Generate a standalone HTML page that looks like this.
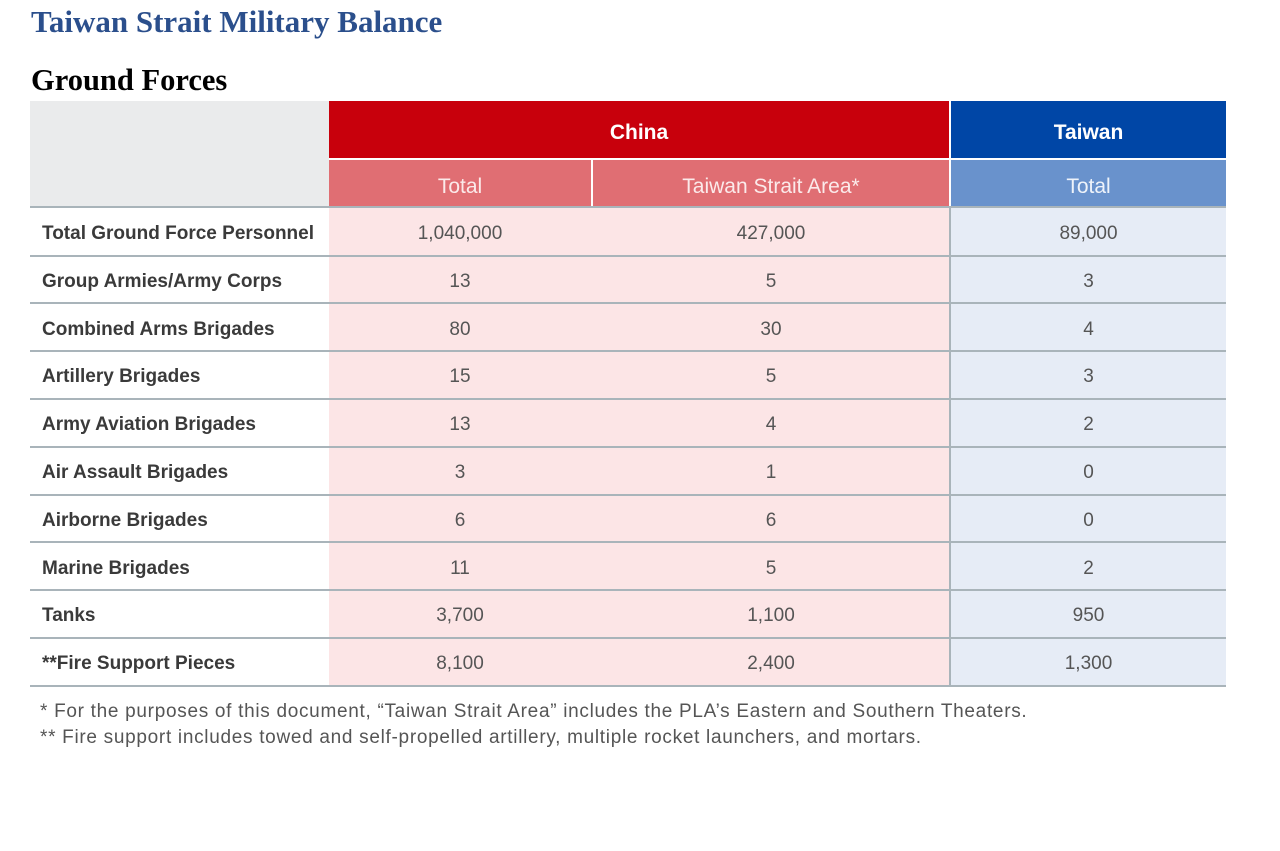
<!DOCTYPE html>
<html><head><meta charset="utf-8"><style>
*{margin:0;padding:0;box-sizing:border-box}
body{width:1280px;height:851px;background:#fff;position:relative;overflow:hidden;font-family:"Liberation Sans",sans-serif}
.a{position:absolute}
.c{display:flex;align-items:center;justify-content:center}
.lbl{font-weight:bold;color:#3a3a3a;font-size:19px;padding-left:12px;display:flex;align-items:center}
.num{color:#555;font-size:19px}
.hl{position:absolute;left:30px;width:1196px;height:2px;background:#a9b4ba}
</style></head><body>
<div class="a" style="left:31px;top:4px;font-family:'Liberation Serif',serif;font-weight:bold;font-size:31px;color:#2b4f8c">Taiwan Strait Military Balance</div>
<div class="a" style="left:31px;top:63px;font-family:'Liberation Serif',serif;font-weight:bold;font-size:30.5px;color:#000">Ground Forces</div>
<div>
<div class="a" style="left:30px;top:101px;width:299px;height:106px;background:#eaebec"></div>
<div class="a c" style="left:329px;top:101px;width:620px;height:57px;padding-top:7px;background:#c8000c;color:#fff;font-weight:bold;font-size:21px">China</div>
<div class="a c" style="left:951px;top:101px;width:275px;height:57px;padding-top:7px;background:#0046a6;color:#fff;font-weight:bold;font-size:21px">Taiwan</div>
<div class="a c" style="left:329px;top:160px;width:262px;height:47px;padding-top:7px;background:#e06e73;color:#fbeaea;font-size:21px">Total</div>
<div class="a c" style="left:593px;top:160px;width:356px;height:47px;padding-top:7px;background:#e06e73;color:#fbeaea;font-size:21px">Taiwan Strait Area*</div>
<div class="a c" style="left:951px;top:160px;width:275px;height:47px;padding-top:7px;background:#6992cc;color:#eef3fa;font-size:21px">Total</div>
<div class="a" style="left:329px;top:208px;width:620px;height:478px;background:#fce5e6"></div>
<div class="a" style="left:949px;top:208px;width:2px;height:478px;background:#a9b4ba"></div>
<div class="a" style="left:951px;top:208px;width:275px;height:478px;background:#e6ecf6"></div>
<div id="rows"></div>
</div>
<div class="a" style="left:40px;top:701px;font-size:19px;letter-spacing:0.7px;color:#555">* For the purposes of this document, “Taiwan Strait Area” includes the PLA’s Eastern and Southern Theaters.</div>
<div class="a" style="left:40px;top:727px;font-size:19px;letter-spacing:0.7px;color:#555">** Fire support includes towed and self-propelled artillery, multiple rocket launchers, and mortars.</div>
<script>
const categories=["Total Ground Force Personnel","Group Armies/Army Corps","Combined Arms Brigades","Artillery Brigades","Army Aviation Brigades","Air Assault Brigades","Airborne Brigades","Marine Brigades","Tanks","**Fire Support Pieces"];
const chinaTotal=["1,040,000","13","80","15","13","3","6","11","3,700","8,100"];
const chinaStrait=["427,000","5","30","5","4","1","6","5","1,100","2,400"];
const taiwanTotal=["89,000","3","4","3","2","0","0","2","950","1,300"];
const root=document.getElementById('rows');
function cell(x,y,w,cls,t){const d=document.createElement('div');d.className='a '+cls;d.style.cssText=`left:${x}px;top:${y+3}px;width:${w}px;height:46px`;d.textContent=t;root.appendChild(d);return d;}
let hl=document.createElement('div');hl.className='hl';hl.style.top='206px';root.appendChild(hl);
categories.forEach((c,i)=>{
  const y=208+i*47.8;
  let d=cell(30,y,299,'lbl',c);
  
  
  d=cell(329,y,262,'c num',chinaTotal[i]);
  
  
  d=cell(593,y,356,'c num',chinaStrait[i]);
  
  
  d=cell(951,y,275,'c num',taiwanTotal[i]);
  
  
  const l=document.createElement('div');l.className='hl';l.style.top=(y+46.5)+'px';root.appendChild(l);
  
  
});
</script>
</body></html>
